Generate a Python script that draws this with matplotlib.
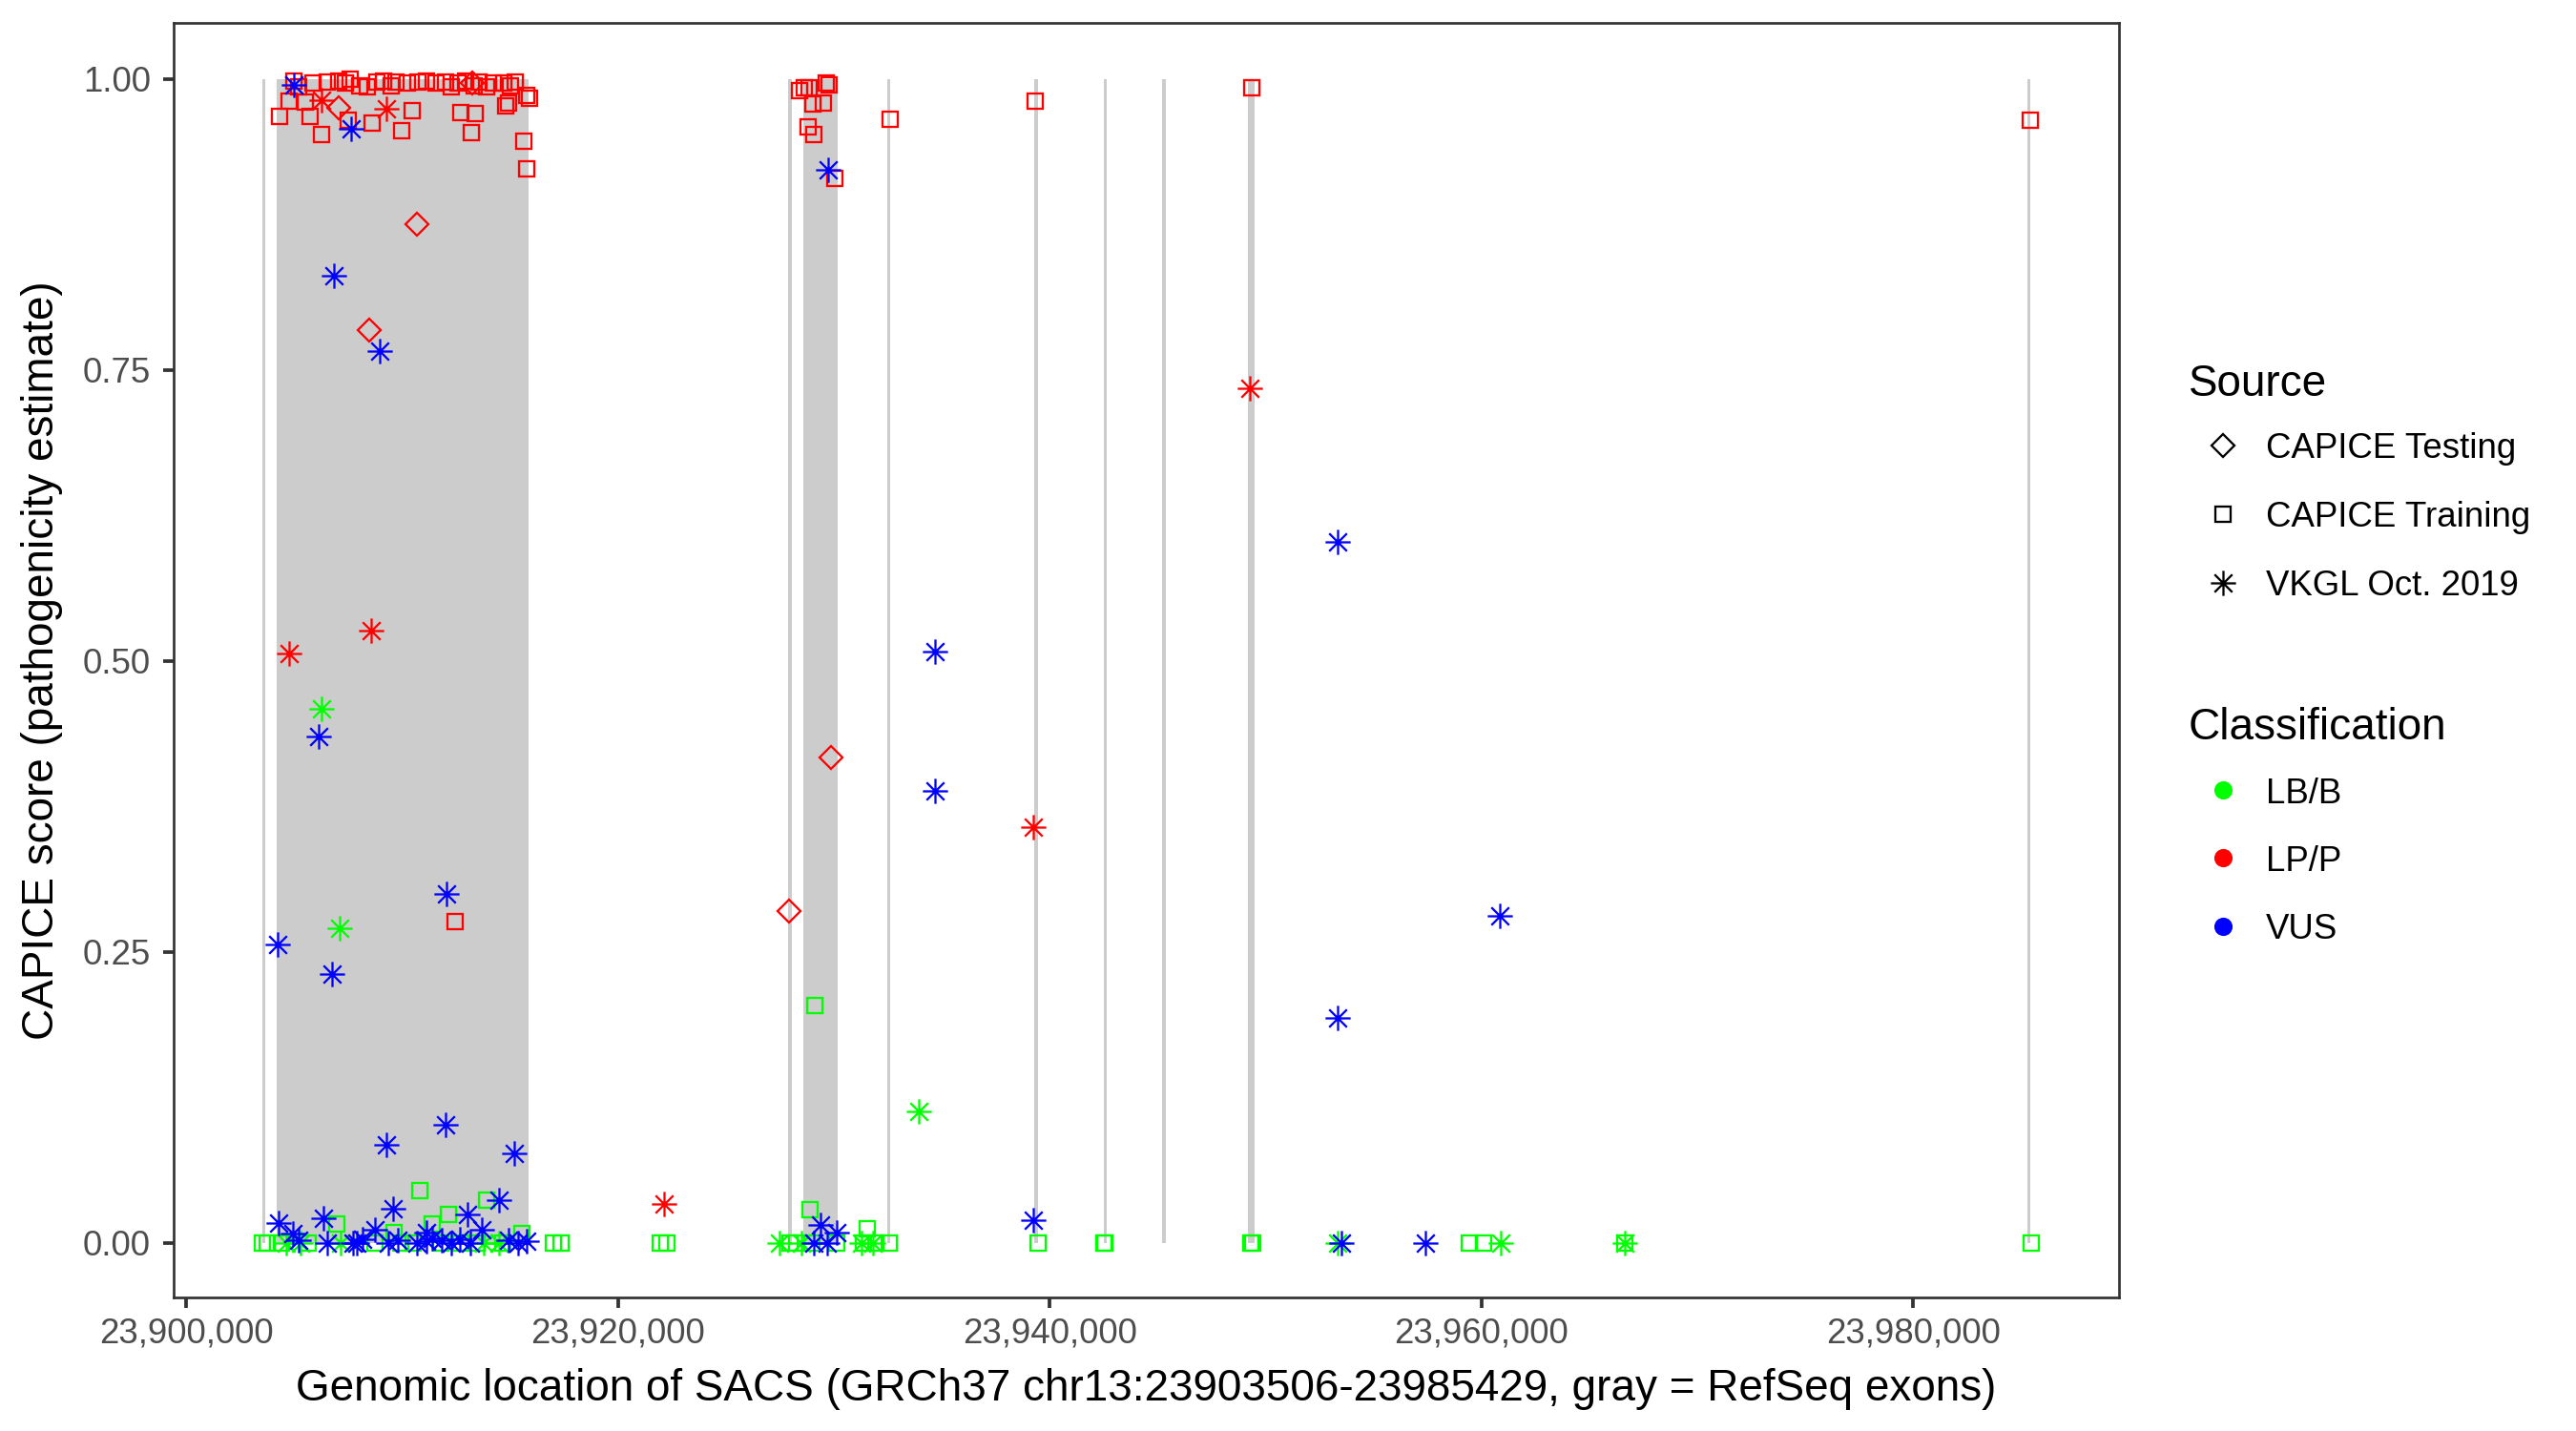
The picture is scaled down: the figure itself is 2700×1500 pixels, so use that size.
import matplotlib
matplotlib.use("Agg")
import matplotlib.pyplot as plt
from matplotlib.path import Path
from matplotlib.patches import Rectangle
from matplotlib.lines import Line2D
from matplotlib.ticker import FuncFormatter

plt.rcParams['font.family'] = ['Liberation Sans', 'DejaVu Sans']

# ---------------- data ----------------
exon_start = [23903506, 23904183, 23927886, 23928579, 23932460, 23939289,
              23942492, 23945202, 23949190, 23985290]
exon_end = [23903640, 23915851, 23928036, 23930157, 23932610, 23939439,
            23942642, 23945352, 23949480, 23985429]

# CAPICE Training, LP/P
train_lpp_pos = [23904993, 23905215, 23905877, 23906540, 23907056, 23907351, 23907572,
                 23908014, 23908382, 23908824, 23909119, 23909487, 23909708, 23910223,
                 23910739, 23911107, 23911549, 23911991, 23912286, 23912580, 23912949,
                 23913317, 23913538, 23913906, 23914201, 23914716, 23915011, 23915232,
                 23915748, 23915895,
                 23904330, 23904772, 23905509, 23905730, 23906246, 23907498, 23908603,
                 23909973, 23910474, 23912728, 23913214, 23913390, 23914790, 23914937,
                 23915630, 23915748,
                 23928416, 23928638, 23928858, 23929008, 23929494, 23929640, 23929786,
                 23928787, 23929052, 23930024,
                 23932588, 23939313, 23949356, 23985430, 23912447]
train_lpp_score = [0.998, 0.993, 0.996, 0.997, 0.998, 0.996, 1.000,
                   0.994, 0.993, 0.997, 0.998, 0.994, 0.997, 0.996,
                   0.997, 0.998, 0.996, 0.997, 0.993, 0.996, 0.998,
                   0.994, 0.997, 0.993, 0.996, 0.996, 0.994, 0.997,
                   0.986, 0.983,
                   0.968, 0.981, 0.980, 0.968, 0.952, 0.964, 0.962,
                   0.955, 0.973, 0.971, 0.954, 0.970, 0.977, 0.979,
                   0.946, 0.923,
                   0.990, 0.992, 0.992, 0.978, 0.979, 0.996, 0.995,
                   0.959, 0.952, 0.914,
                   0.965, 0.981, 0.992, 0.964, 0.276]

# CAPICE Training, LB/B
train_lbb_pos = [23903520, 23903741, 23904404, 23905656, 23906982, 23910813, 23912139,
                 23911402, 23913906, 23915527, 23909634, 23917016, 23917354, 23908750,
                 23909929, 23910518, 23913464, 23914643, 23911800, 23912700,
                 23921950, 23922262,
                 23927975, 23928270, 23928889, 23928977, 23930112, 23931555, 23931364,
                 23931953, 23932543, 23929114,
                 23939467, 23942500, 23942560, 23949300, 23949380, 23959432, 23960109,
                 23966644, 23985439]
train_lbb_score = [0.0, 0.0, 0.0, 0.0, 0.016, 0.045, 0.024,
                   0.016, 0.037, 0.008, 0.009, 0.0, 0.0, 0.0,
                   0.0, 0.0, 0.0, 0.0, 0.0, 0.0,
                   0.0, 0.0,
                   0.0, 0.0, 0.028, 0.0, 0.0, 0.012, 0.0,
                   0.0, 0.0, 0.204,
                   0.0, 0.0, 0.0, 0.0, 0.0, 0.0, 0.0,
                   0.0, 0.0]

# CAPICE Testing, LP/P
test_lpp_pos = [23907056, 23913244, 23910695, 23908489, 23927895, 23929875]
test_lpp_score = [0.975, 0.996, 0.875, 0.784, 0.285, 0.417]

# VKGL, LP/P
vkgl_lpp_pos = [23909266, 23906246, 23908567, 23904762, 23922112, 23939235, 23949281]
vkgl_lpp_score = [0.974, 0.982, 0.526, 0.506, 0.033, 0.357, 0.734]

# VKGL, VUS
vkgl_vus_pos = [23904964, 23907645, 23929714, 23906817, 23908947, 23906132, 23904228,
                23906739, 23912068, 23909252, 23911988, 23915188, 23934670, 23934670,
                23939235, 23953316, 23953316, 23960847, 23953513, 23957405,
                23904257, 23906349, 23909590, 23913022, 23914495, 23908750, 23911107,
                23913686, 23905215, 23906540, 23907719, 23908161, 23909339, 23909781,
                23910665, 23911107, 23911402, 23911844, 23912286, 23912654, 23913170,
                23914937, 23915379, 23915748, 23904920, 23907900,
                23929375, 23930112, 23929670, 23929080]
vkgl_vus_score = [0.995, 0.957, 0.922, 0.831, 0.766, 0.435, 0.256,
                  0.231, 0.300, 0.084, 0.101, 0.077, 0.508, 0.388,
                  0.019, 0.602, 0.193, 0.281, 0.0, 0.0,
                  0.017, 0.021, 0.029, 0.024, 0.037, 0.011, 0.009,
                  0.011, 0.002, 0.0, 0.0, 0.003, 0.0, 0.002,
                  0.0, 0.001, 0.004, 0.002, 0.0, 0.003, 0.0,
                  0.002, 0.0, 0.001, 0.008, 0.0,
                  0.015, 0.009, 0.0, 0.0]

# VKGL, LB/B
vkgl_lbb_pos = [23906282, 23907119, 23933910, 23905288, 23907130, 23913759, 23914495,
                23904625, 23927489, 23928491, 23931290, 23931806, 23953343, 23960869,
                23966644]
vkgl_lbb_score = [0.459, 0.270, 0.113, 0.0, 0.0, 0.0, 0.0,
                  0.0, 0.0, 0.0, 0.0, 0.0, 0.0, 0.0,
                  0.0]

x_ticks = [23900000, 23920000, 23940000, 23960000, 23980000]
y_ticks = [0.00, 0.25, 0.50, 0.75, 1.00]
source_labels = ['CAPICE Testing', 'CAPICE Training', 'VKGL Oct. 2019']
class_labels = ['LB/B', 'LP/P', 'VUS']
class_colors = ['#00FF00', '#FF0000', '#0000FF']

# ---------------- style ----------------
ast_path = Path([(-1, 0), (1, 0), (0, -1), (0, 1),
                 (-0.7071, -0.7071), (0.7071, 0.7071), (-0.7071, 0.7071), (0.7071, -0.7071)],
                [Path.MOVETO, Path.LINETO] * 4)
shape_style = {
    'CAPICE Testing': dict(marker='D', ms=4.0, mew=0.55),
    'CAPICE Training': dict(marker='s', ms=4.0, mew=0.55),
    'VKGL Oct. 2019': dict(marker=ast_path, ms=6.3, mew=0.55),
}
col = dict(zip(class_labels, class_colors))

W, H = 2700, 1500
fig = plt.figure(figsize=(9, 5), dpi=300)
ax = fig.add_axes([182 / W, 1 - 1360 / H, 2039 / W, 1336 / H])

for s, e in zip(exon_start, exon_end):
    ax.add_patch(Rectangle((s, 0), e - s, 1, facecolor='#CCCCCC', edgecolor='none', zorder=1))

groups = [
    (train_lbb_pos, train_lbb_score, 'CAPICE Training', 'LB/B'),
    (vkgl_lbb_pos, vkgl_lbb_score, 'VKGL Oct. 2019', 'LB/B'),
    (train_lpp_pos, train_lpp_score, 'CAPICE Training', 'LP/P'),
    (test_lpp_pos, test_lpp_score, 'CAPICE Testing', 'LP/P'),
    (vkgl_lpp_pos, vkgl_lpp_score, 'VKGL Oct. 2019', 'LP/P'),
    (vkgl_vus_pos, vkgl_vus_score, 'VKGL Oct. 2019', 'VUS'),
]
for xs, ys, src, cls in groups:
    st = shape_style[src]
    ax.plot(xs, ys, linestyle='none', marker=st['marker'], ms=st['ms'], mew=st['mew'],
            mec=col[cls], mfc='none', zorder=3)

lo = min(exon_start)
hi = max(exon_end)
span = hi - lo
ax.set_xlim(lo - 0.05 * span, hi + 0.05 * span)
ax.set_ylim(-0.047, 1.048)

ax.set_xticks(x_ticks)
ax.xaxis.set_major_formatter(FuncFormatter(lambda v, p: f'{int(round(v)):,}'))
ax.set_yticks(y_ticks)
ax.set_yticklabels([f'{v:.2f}' for v in y_ticks])

for sp in ax.spines.values():
    sp.set_color('#333333')
    sp.set_linewidth(0.65)
ax.tick_params(axis='both', length=2.75, width=0.9, color='#333333',
               labelcolor='#4D4D4D', labelsize=8.8)
ax.tick_params(axis='x', pad=2.2)
ax.tick_params(axis='y', pad=3.0)

ax.set_xlabel('Genomic location of SACS (GRCh37 chr13:23903506-23985429, gray = RefSeq exons)',
              fontsize=11, color='black', labelpad=4.4)
ax.set_ylabel('CAPICE score (pathogenicity estimate)', fontsize=11, color='black', labelpad=5)

# ---------------- legends ----------------
def fx(px):
    return px / W

def fy(py):
    return 1 - py / H

fig.text(fx(2294), fy(398), 'Source', fontsize=11, ha='left', va='center_baseline')
for lab, yy in zip(source_labels, [467, 539, 611]):
    st = shape_style[lab]
    fig.add_artist(Line2D([fx(2330)], [fy(yy)], transform=fig.transFigure, linestyle='none',
                          marker=st['marker'], ms=st['ms'], mew=st['mew'], mec='black', mfc='none'))
    fig.text(fx(2375), fy(yy), lab, fontsize=8.8, ha='left', va='center_baseline')

fig.text(fx(2294), fy(758), 'Classification', fontsize=11, ha='left', va='center_baseline')
for lab, c, yy in zip(class_labels, class_colors, [828, 899, 971]):
    fig.add_artist(Line2D([fx(2330)], [fy(yy)], transform=fig.transFigure, linestyle='none',
                          marker='o', ms=4.6, mew=0, mfc=c))
    fig.text(fx(2375), fy(yy), lab, fontsize=8.8, ha='left', va='center_baseline')

fig.savefig('out.png', dpi=300, facecolor='white')
